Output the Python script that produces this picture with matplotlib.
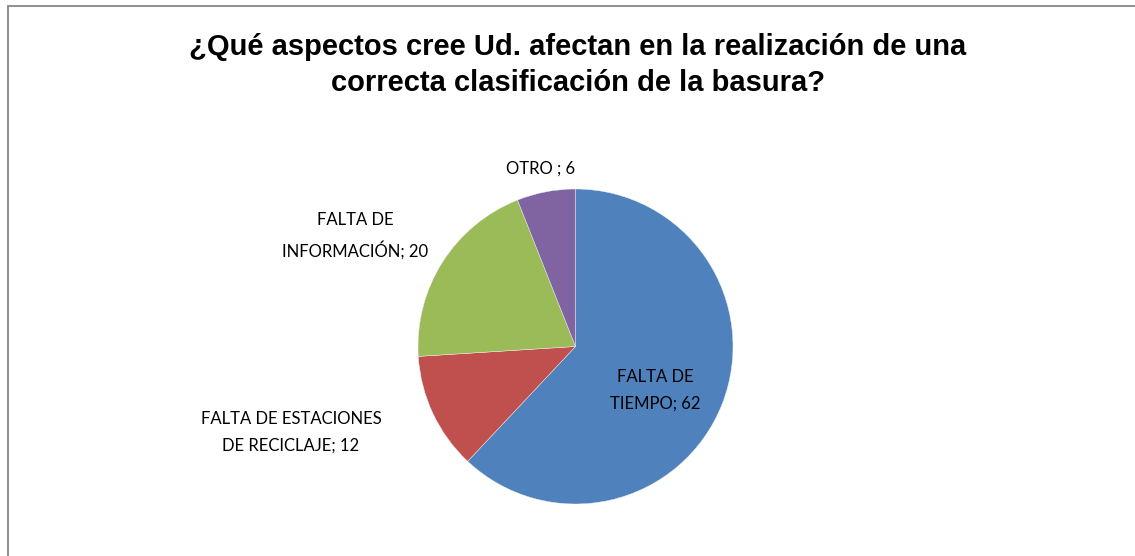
import matplotlib.pyplot as plt
from matplotlib.patches import Rectangle

# data
categories = ["FALTA DE\nTIEMPO", "FALTA DE ESTACIONES\nDE RECICLAJE", "FALTA DE\nINFORMACIÓN", "OTRO "]
values = [62, 12, 20, 6]
colors = ["#4F81BD", "#C0504D", "#9BBB59", "#8064A2"]
title = "¿Qué aspectos cree Ud. afectan en la realización de una\ncorrecta clasificación de la basura?"

W, H = 1135, 556
fig = plt.figure(figsize=(W / 100, H / 100), dpi=100)
ax = fig.add_axes([0, 0, 1, 1])

# chart frame (cut off at right/bottom like the reference)
ax.add_patch(Rectangle((8, -10), W + 20, H - 6 + 10, fill=False,
                       edgecolor="#868686", linewidth=1.3))

cx, cy, r = 575.5, H - 346.5, 157.5
ax.pie(values, colors=colors, startangle=90, counterclock=False,
       center=(cx, cy), radius=r, frame=True,
       wedgeprops=dict(linewidth=0.3, edgecolor="#f0f0f0"))
ax.set_xlim(0, W)
ax.set_ylim(0, H)
ax.set_aspect("equal")
ax.axis("off")

# label positions in pixel coords (from the reference)
label_pos = [(655, 390), (291, 432), (355, 236), (541, 169)]
for cat, val, (lx, ly) in zip(categories, values, label_pos):
    ax.text(lx, H - ly, "{}; {}".format(cat, val), ha="center", va="center",
            fontsize=12, family="Lato", linespacing=1.8, color="black")

ax.text(578, H - 65, title, ha="center", va="center", fontsize=21,
        fontweight="bold", family="Liberation Sans", linespacing=1.33)

fig.savefig("out.png", dpi=100)
